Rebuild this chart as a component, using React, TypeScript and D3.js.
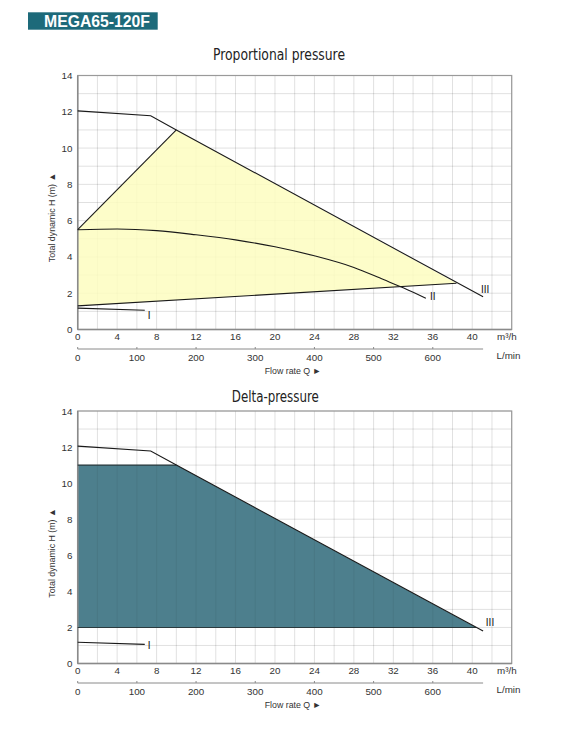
import React from "react";
import * as d3 from "d3";

// ---------- data ----------
const modelName = "MEGA65-120F";
const titleTop = "Proportional pressure";
const titleBottom = "Delta-pressure";
const yAxisLabel = "Total dynamic H (m) ▲";
const xAxisLabel = "Flow rate Q ►";
const unitM3h = "m³/h";
const unitLmin = "L/min";

const xTicksM3h = [0, 4, 8, 12, 16, 20, 24, 28, 32, 36, 40];
const xTicksLmin = [0, 100, 200, 300, 400, 500, 600];
const yTicks = [0, 2, 4, 6, 8, 10, 12, 14];
const xGrid = d3.range(0, 45, 2);
const yGrid = d3.range(0, 15, 1);

// curves: [Q m3/h, H m]
const curveIII: [number, number][] = [
  [0, 12.05],
  [7.4, 11.78],
  [10, 11],
  [41.1, 1.8],
];
const curveII: [number, number][] = [
  [0, 5.5],
  [4, 5.54],
  [8, 5.45],
  [12, 5.22],
  [16, 4.94],
  [20, 4.56],
  [24, 4.06],
  [28, 3.42],
  [31, 2.75],
  [33, 2.3],
  [35.3, 1.72],
];
const curveI: [number, number][] = [
  [0, 1.18],
  [6.8, 1.06],
];
const propUpper: [number, number][] = [
  [0, 5.5],
  [10, 11],
];
const propLower: [number, number][] = [
  [0, 1.3],
  [38.4, 2.55],
];
const propArea: [number, number][] = [
  [0, 5.5],
  [10, 11],
  [38.4, 2.55],
  [0, 1.3],
];
const deltaArea: [number, number][] = [
  [0, 11],
  [10, 11],
  [40.4, 2],
  [0, 2],
];
const deltaEdges: [number, number][][] = [
  [
    [0, 11],
    [10, 11],
  ],
  [
    [0, 2],
    [40.4, 2],
  ],
];

const labelsTop = [
  { t: "I", q: 7.25, h: 0.78 },
  { t: "II", q: 36.0, h: 1.8 },
  { t: "III", q: 41.3, h: 2.22 },
];
const labelsBottom = [
  { t: "I", q: 7.25, h: 0.98 },
  { t: "III", q: 41.8, h: 2.25 },
];

const Q_MAX = 44;
const H_MAX = 14;
const LMIN_AXIS_END = 685;

// ---------- styles ----------
const narrow = "'Liberation Sans Narrow', 'DejaVu Sans Condensed', 'Liberation Sans', sans-serif";
const sans = "'Liberation Sans', Arial, sans-serif";
const textColor = "#333";

type ChartProps = {
  top: number;
  bottom: number;
  title: string;
  titleY: number;
  titleX: number;
  titleW: number;
  mode: "prop" | "delta";
};

const X0 = 77.7;
const X1 = 511.7;

function Chart({ top, bottom, title, titleY, titleX, titleW, mode }: ChartProps) {
  const x = d3.scaleLinear().domain([0, Q_MAX]).range([X0, X1]);
  const xl = d3
    .scaleLinear()
    .domain([0, (Q_MAX * 1000) / 60])
    .range([X0, X1]);
  const y = d3.scaleLinear().domain([0, H_MAX]).range([bottom, top]);
  const line = d3
    .line<[number, number]>()
    .x((d) => x(d[0]))
    .y((d) => y(d[1]));
  const smooth = d3
    .line<[number, number]>()
    .x((d) => x(d[0]))
    .y((d) => y(d[1]))
    .curve(d3.curveMonotoneX);
  const poly = (pts: [number, number][]) => line(pts) + "Z";
  const labels = mode === "prop" ? labelsTop : labelsBottom;
  const clipId = "clip-" + mode;

  return (
    <g>
      <text
        x={titleX}
        y={titleY}
        textAnchor="middle"
        fontFamily={narrow}
        fontSize={16}
        fill="#222"
        textLength={titleW}
        lengthAdjust="spacingAndGlyphs"
      >
        {title}
      </text>

      {/* grid */}
      {xGrid.map((g) => (
        <line
          key={"gx" + g}
          x1={x(g)}
          x2={x(g)}
          y1={top}
          y2={bottom}
          stroke="#000"
          strokeOpacity={0.12}
          strokeWidth={1}
        />
      ))}
      {yGrid.map((g) => (
        <line
          key={"gy" + g}
          x1={X0}
          x2={X1}
          y1={y(g)}
          y2={y(g)}
          stroke="#000"
          strokeOpacity={0.12}
          strokeWidth={1}
        />
      ))}

      {/* fills */}
      {mode === "prop" ? (
        <path d={poly(propArea)} fill="#fdfdc0" fillOpacity={0.85} />
      ) : (
        <>
          <defs>
            <clipPath id={clipId}>
              <path d={poly(deltaArea)} />
            </clipPath>
          </defs>
          <path d={poly(deltaArea)} fill="#4d7f8d" />
          <g clipPath={`url(#${clipId})`}>
            {xGrid.map((g) => (
              <line
                key={"gxt" + g}
                x1={x(g)}
                x2={x(g)}
                y1={top}
                y2={bottom}
                stroke="#000"
                strokeOpacity={0.05}
                strokeWidth={1.2}
              />
            ))}
          </g>
        </>
      )}

      {/* frame */}
      <rect x={X0} y={top} width={X1 - X0} height={bottom - top} fill="none" stroke="#9a9a9a" strokeWidth={1.2} />
      <line x1={X0} x2={X0} y1={top} y2={bottom} stroke="#8a8a8a" strokeWidth={1.5} />
      <line x1={X0} x2={X1} y1={bottom} y2={bottom} stroke="#8a8a8a" strokeWidth={1.5} />

      {/* curves */}
      {mode === "prop" ? (
        <g fill="none" stroke="#1a1a1a" strokeWidth={1.1}>
          <path d={line(propUpper) ?? ""} />
          <path d={line(propLower) ?? ""} />
          <path d={smooth(curveII) ?? ""} />
          <path d={line(curveIII) ?? ""} />
          <path d={line(curveI) ?? ""} />
        </g>
      ) : (
        <g fill="none" stroke="#1a1a1a" strokeWidth={1.1}>
          {deltaEdges.map((e, i) => (
            <path key={i} d={line(e) ?? ""} stroke="#2a3a3e" />
          ))}
          <path d={line(curveIII) ?? ""} />
          <path d={line(curveI) ?? ""} />
        </g>
      )}

      {labels.map((l) => (
        <text
          key={l.t}
          x={x(l.q)}
          y={y(l.h)}
          textAnchor="middle"
          dominantBaseline="central"
          fontFamily={sans}
          fontSize={10}
          fill="#111"
        >
          {l.t}
        </text>
      ))}

      {/* y ticks */}
      {yTicks.map((t) => (
        <text
          key={"yt" + t}
          x={72.5}
          y={y(t) + 3.5}
          textAnchor="end"
          fontFamily={sans}
          fontSize={9.8}
          fill={textColor}
        >
          {t}
        </text>
      ))}

      {/* x ticks m3/h */}
      {xTicksM3h.map((t) => (
        <text
          key={"xt" + t}
          x={x(t)}
          y={bottom + 10.7}
          textAnchor="middle"
          fontFamily={sans}
          fontSize={9.8}
          fill={textColor}
        >
          {t}
        </text>
      ))}
      <text x={497} y={bottom + 10.7} fontFamily={sans} fontSize={9.8} fill={textColor}>
        {unitM3h}
      </text>

      {/* L/min axis */}
      <line x1={xl(0)} x2={xl(LMIN_AXIS_END)} y1={bottom + 19.5} y2={bottom + 19.5} stroke="#8a8a8a" strokeWidth={1} />
      {xTicksLmin.map((t) => (
        <g key={"lt" + t}>
          <line x1={xl(t)} x2={xl(t)} y1={bottom + 17.5} y2={bottom + 19.5} stroke="#8a8a8a" />
          <text
            x={xl(t)}
            y={bottom + 31}
            textAnchor="middle"
            fontFamily={sans}
            fontSize={9.8}
            fill={textColor}
          >
            {t}
          </text>
        </g>
      ))}
      <text x={496.5} y={bottom + 29.2} fontFamily={sans} fontSize={9.8} fill={textColor}>
        {unitLmin}
      </text>

      <text
        x={293}
        y={bottom + 44.8}
        textAnchor="middle"
        fontFamily={sans}
        fontSize={8.8}
        fill={textColor}
      >
        {xAxisLabel}
      </text>

      <text
        transform={`translate(54.5, ${top + 142}) rotate(-90)`}
        textAnchor="middle"
        fontFamily={sans}
        fontSize={8.8}
        fill={textColor}
      >
        {yAxisLabel}
      </text>
    </g>
  );
}

export default function App() {
  return (
    <svg
      width={564}
      height={740}
      style={{ position: "absolute", left: 0, top: 0, background: "#fff" }}
    >
      <rect x={0} y={0} width={564} height={740} fill="#fff" />
      <rect x={28} y={12.3} width={129.7} height={17.4} fill="#1d6a7a" />
      <text
        x={44}
        y={27}
        fontFamily={sans}
        fontWeight="bold"
        fontSize={16}
        fill="#fff"
        textLength={106}
        lengthAdjust="spacingAndGlyphs"
      >
        {modelName}
      </text>
      <Chart top={75.5} bottom={329.5} title={titleTop} titleX={279} titleY={59.5} titleW={132} mode="prop" />
      <Chart top={411} bottom={663.5} title={titleBottom} titleX={275.3} titleY={401.5} titleW={87} mode="delta" />
    </svg>
  );
}
